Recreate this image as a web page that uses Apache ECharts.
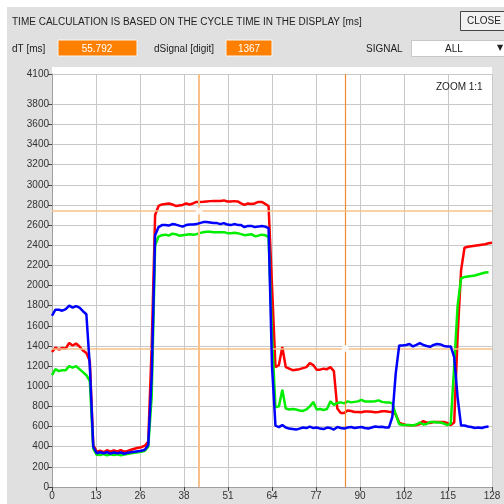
<!DOCTYPE html>
<html>
<head>
<meta charset="utf-8">
<script src="https://cdn.jsdelivr.net/npm/echarts@6/dist/echarts.min.js"></script>
<style>
html,body{margin:0;padding:0;background:#ffffff;}
#c{width:504px;height:504px;}
</style>
</head>
<body>
<div id="c"></div>
<script>
// ---- data (sample index 0..127) ----
const redValues = [
1340,1385,1365,1380,1375,1430,1405,1425,1395,1355,1330,1250,
420,350,360,345,365,350,362,352,365,350,358,370,380,390,395,410,
450,1400,2700,
2790,2805,2810,2815,2805,2790,2795,2800,2815,2805,2815,2830,2830,2832,2835,2838,2840,2840,2840,2845,2835,2835,2838,2835,2815,2800,2815,2810,2815,2830,2830,2810,2790,
2000,
1190,1210,1390,1190,1175,1160,1165,1170,1180,1190,1230,1210,1165,1165,1175,1170,1190,
1150,780,735,735,760,755,745,745,742,750,750,748,742,745,752,752,748,745,
720,640,625,615,612,612,615,625,655,640,635,645,645,645,645,635,615,640,
1500,2150,2375,2385,2390,2395,2400,2405,2410,2420,2425
];
const greenValues = [
1110,1170,1150,1160,1160,1200,1185,1200,1170,1140,1110,1050,
380,320,318,328,315,325,318,325,315,322,328,335,340,345,350,360,
400,900,2400,
2486,2500,2505,2495,2515,2510,2495,2500,2505,2510,2505,2510,2520,2530,2535,2535,2530,2530,2528,2530,2520,2518,2525,2520,2510,2500,2505,2510,2490,2495,2505,2500,2480,
1500,
790,800,965,780,770,775,770,760,755,770,800,845,770,775,765,775,850,
815,835,840,830,850,840,845,850,865,850,850,850,852,860,845,840,840,
830,720,625,615,615,615,610,620,640,620,625,645,645,640,640,630,615,630,
1200,1800,2070,2085,2090,2095,2100,2110,2120,2130,2132
];
const blueValues = [
1700,1760,1760,1750,1765,1800,1780,1795,1780,1745,1715,1200,
400,335,345,335,345,332,342,335,343,330,340,345,350,355,360,370,
420,1100,2500,
2580,2600,2600,2595,2610,2605,2595,2585,2600,2605,2605,2610,2620,2630,2630,2625,2620,2620,2610,2620,2605,2600,2610,2602,2600,2580,2592,2592,2580,2585,2592,2585,2570,
1200,
610,595,615,590,580,575,570,580,590,585,600,585,590,580,575,590,585,
570,595,585,580,590,595,585,590,595,585,580,590,600,595,598,590,590,
695,1130,1405,1405,1410,1420,1395,1410,1428,1410,1400,1392,1410,1420,1415,1400,1395,1395,
1290,890,610,610,600,595,585,590,585,595,600
];
const cursorX = [42.8, 85.3];
const cursorY = [2741, 1374];
const yTickLabels = [0,200,400,600,800,1000,1200,1400,1600,1800,2000,2200,2400,2600,2800,3000,3200,3400,3600,3800,4100];
const xMin = 0, xMax = 128, xStep = 12.8;
const yMin = 0, yMax = 4100, yStep = 200;
const dTText = '55.792';
const dSignalText = '1367';

const toPairs = arr => arr.map((v, i) => [i, v]);

const FONT = '10px "Liberation Sans", Arial, sans-serif';
const chart = echarts.init(document.getElementById('c'), null, {renderer: 'canvas'});

const option = {
  animation: false,
  backgroundColor: '#ffffff',
  textStyle: {fontFamily: '"Liberation Sans", Arial, sans-serif'},
  grid: {left: 52, right: 12, top: 74, bottom: 17, show: true, backgroundColor: '#ffffff', borderWidth: 0},
  graphic: [
    {type: 'rect', z: -10, shape: {x: 7, y: 7, width: 497, height: 497}, style: {fill: '#e0e0e0'}, silent: true},
    {type: 'rect', z: -9, shape: {x: 52, y: 67, width: 440, height: 8}, style: {fill: '#ffffff'}, silent: true},
    {type: 'text', style: {text: 'TIME CALCULATION IS BASED ON THE CYCLE TIME IN THE DISPLAY [ms]', x: 12, y: 22, font: FONT, fill: '#222', verticalAlign: 'middle'}},
    {type: 'rect', shape: {x: 460.5, y: 11.5, width: 50, height: 19}, style: {fill: '#f2f2f2', stroke: '#444', lineWidth: 1}},
    {type: 'text', style: {text: 'CLOSE', x: 484, y: 21, font: FONT, fill: '#222', align: 'center', verticalAlign: 'middle'}},
    {type: 'text', style: {text: 'dT [ms]', x: 12, y: 49, font: FONT, fill: '#222', verticalAlign: 'middle'}},
    {type: 'rect', shape: {x: 58, y: 40, width: 79, height: 16}, style: {fill: '#ff8000', stroke: '#f6f6f6', lineWidth: 1}},
    {type: 'text', style: {text: dTText, x: 97, y: 49, font: FONT, fill: '#ffffff', align: 'center', verticalAlign: 'middle'}},
    {type: 'text', style: {text: 'dSignal [digit]', x: 154, y: 49, font: FONT, fill: '#222', verticalAlign: 'middle'}},
    {type: 'rect', shape: {x: 226, y: 40, width: 46, height: 16}, style: {fill: '#ff8000', stroke: '#f6f6f6', lineWidth: 1}},
    {type: 'text', style: {text: dSignalText, x: 249, y: 49, font: FONT, fill: '#ffffff', align: 'center', verticalAlign: 'middle'}},
    {type: 'text', style: {text: 'SIGNAL', x: 366, y: 49, font: FONT, fill: '#222', verticalAlign: 'middle'}},
    {type: 'rect', shape: {x: 411.5, y: 40.5, width: 100, height: 16}, style: {fill: '#ffffff', stroke: '#c8c8c8', lineWidth: 1}},
    {type: 'text', style: {text: 'ALL', x: 454, y: 49, font: FONT, fill: '#222', align: 'center', verticalAlign: 'middle'}},
    {type: 'text', style: {text: '▼', x: 500, y: 48, font: '8px "DejaVu Sans", sans-serif', fill: '#222', align: 'center', verticalAlign: 'middle'}},
    {type: 'text', z: 100, style: {text: 'ZOOM 1:1', x: 436, y: 87, font: FONT, fill: '#222', verticalAlign: 'middle'}}
  ],
  xAxis: {
    type: 'value', min: xMin, max: xMax, interval: xStep,
    axisLine: {show: true, onZero: false, lineStyle: {color: '#a0a0a0'}},
    axisTick: {show: true, length: 4, lineStyle: {color: '#444'}},
    axisLabel: {color: '#333', fontSize: 10, margin: 4, formatter: v => String(Math.round(v))},
    splitLine: {show: true, lineStyle: {color: '#c8c8c8', width: 1}}
  },
  yAxis: {
    type: 'value', min: yMin, max: yMax, interval: yStep,
    axisLine: {show: true, lineStyle: {color: '#a0a0a0'}},
    axisTick: {show: true, length: 4, lineStyle: {color: '#444'}, customValues: yTickLabels},
    axisLabel: {color: '#333', fontSize: 10, margin: 3, customValues: yTickLabels, formatter: v => String(v)},
    splitLine: {show: true, lineStyle: {color: '#c8c8c8', width: 1}}
  },
  series: [
    {
      type: 'line', name: 'cursor', data: [], z: 1, silent: true,
      markLine: {
        silent: true, symbol: 'none', label: {show: false}, animation: false,
        data: [
          {xAxis: cursorX[0], lineStyle: {color: '#f9c08a', width: 2, type: 'solid'}},
          {xAxis: cursorX[1], lineStyle: {color: '#f08a30', width: 1.2, type: 'solid'}},
          {yAxis: cursorY[0], lineStyle: {color: '#f9c08a', width: 1.5, type: 'solid'}},
          {yAxis: cursorY[1], lineStyle: {color: '#f9c08a', width: 1.5, type: 'solid'}}
        ]
      }
    },
    {type: 'line', name: 'red', data: toPairs(redValues), showSymbol: false, z: 3, lineStyle: {color: '#ff0000', width: 2.5}, itemStyle: {color: '#ff0000'}},
    {type: 'line', name: 'green', data: toPairs(greenValues), showSymbol: false, z: 4, lineStyle: {color: '#00ee00', width: 2.5}, itemStyle: {color: '#00ee00'}},
    {type: 'line', name: 'blue', data: toPairs(blueValues), showSymbol: false, z: 5, lineStyle: {color: '#0000ff', width: 2.5}, itemStyle: {color: '#0000ff'}},
    {type: 'scatter', name: 'cursorPts', z: 6, silent: true, data: [[cursorX[0], cursorY[0]], [cursorX[1], cursorY[1]]], symbol: 'emptyCircle', symbolSize: 5, itemStyle: {color: '#ffffff', borderColor: '#f5a860', borderWidth: 1}}
  ]
};
chart.setOption(option);
</script>
</body>
</html>
